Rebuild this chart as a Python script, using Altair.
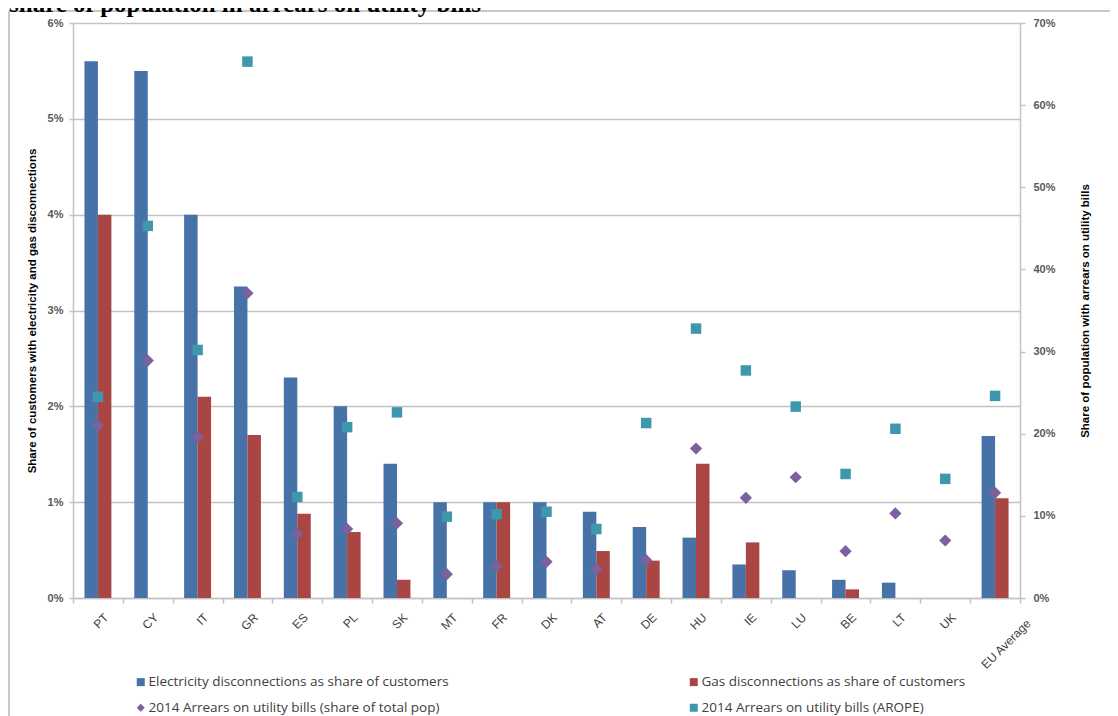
import altair as alt
import pandas as pd

countries = ["PT", "CY", "IT", "GR", "ES", "PL", "SK", "MT", "FR", "DK", "AT",
             "DE", "HU", "IE", "LU", "BE", "LT", "UK", "EU Average"]
# % of customers
electricity = [5.60, 5.50, 4.00, 3.25, 2.30, 2.00, 1.40, 1.00, 1.00, 1.00, 0.90,
               0.74, 0.63, 0.35, 0.29, 0.19, 0.16, None, 1.69]
gas = [4.00, None, 2.10, 1.70, 0.88, 0.69, 0.19, None, 1.00, None, 0.49,
       0.39, 1.40, 0.58, None, 0.09, None, None, 1.04]
# % of population
arrears_total = [21.0, 28.9, 19.6, 37.1, 7.8, 8.4, 9.1, 2.9, 3.9, 4.4, 3.5,
                 4.6, 18.2, 12.2, 14.7, 5.7, 10.3, 7.0, 12.8]
arrears_arope = [24.5, 45.3, 30.2, 65.3, 12.3, 20.8, 22.6, 9.9, 10.2, 10.5, 8.4,
                 21.3, 32.8, 27.7, 23.3, 15.1, 20.6, 14.5, 24.6]

series_names = ["Electricity disconnections as share of customers",
                "Gas disconnections as share of customers",
                "2014 Arrears on utility bills (share of total pop)",
                "2014 Arrears on utility bills (AROPE)"]
series_colors = ["#4672A8", "#A94542", "#7D609E", "#3D98AE"]
series_shapes = ["square", "square", "diamond", "square"]

title_text = "share of population in arrears on utility bills"
left_title = "Share of customers with electricity and gas disconnections"
right_title = "Share of population with arrears on utility bills"

bar_rows = []
for c, e, g in zip(countries, electricity, gas):
    if e is not None:
        bar_rows.append({"country": c, "series": series_names[0], "value": e / 100})
    if g is not None:
        bar_rows.append({"country": c, "series": series_names[1], "value": g / 100})
bars_df = pd.DataFrame(bar_rows)

pt_rows = []
for c, t, a in zip(countries, arrears_total, arrears_arope):
    pt_rows.append({"country": c, "series": series_names[2], "value": t / 100})
    pt_rows.append({"country": c, "series": series_names[3], "value": a / 100})
pts_df = pd.DataFrame(pt_rows)

W, H = 947, 575
GRAY = "#c3c3c3"
FONT = "Liberation Sans"

legend = alt.Legend(orient="none", legendX=61, legendY=652, columns=2,
                    direction="horizontal",
                    columnPadding=238, rowPadding=11, title=None,
                    labelFont="Open Sans", labelFontSize=13.5, labelColor="#404040",
                    symbolSize=64, symbolStrokeWidth=0, labelOffset=1,
                    labelLimit=0)

is_eu = "datum.value === 'EU Average'"
x_scale = alt.Scale(domain=countries, paddingInner=0, paddingOuter=0)
x_axis = alt.Axis(title=None, labelAngle=315, labelAlign="right",
                  labelBaseline="middle", labelFont=FONT, labelFontSize=12,
                  labelColor="#404040", tickBand="extent", tickSize=5,
                  tickColor=GRAY, tickWidth=1.5, domainColor=GRAY,
                  domainWidth=1.5, grid=False,
                  labelPadding={"condition": {"test": is_eu, "value": 18}, "value": 12},
                  labelOffset={"condition": {"test": is_eu, "value": 33}, "value": 8})
color = alt.Color("series:N", scale=alt.Scale(domain=series_names, range=series_colors),
                  legend=legend)
shape = alt.Shape("series:N", scale=alt.Scale(domain=series_names, range=series_shapes),
                  legend=legend)

bars = alt.Chart(bars_df).mark_bar().encode(
    x=alt.X("country:N", sort=countries, scale=x_scale, axis=x_axis),
    xOffset=alt.XOffset("series:N", scale=alt.Scale(domain=series_names[:2],
                                                   paddingInner=0, paddingOuter=0.85)),
    y=alt.Y("value:Q", scale=alt.Scale(domain=[0, 0.06], nice=False),
            axis=alt.Axis(title=left_title, values=[0, 0.01, 0.02, 0.03, 0.04, 0.05, 0.06],
                          format=".0%", orient="left", grid=True, gridColor=GRAY,
                          gridWidth=1.5, domainColor=GRAY, domainWidth=1.5,
                          tickColor=GRAY, tickSize=4, tickWidth=1.5,
                          labelFont=FONT, labelFontSize=11, labelColor="#595959",
                          labelFontWeight="bold", labelPadding=6,
                          titleFont=FONT, titleFontSize=11.5, titleFontWeight="bold",
                          titleColor="#000000", titleAngle=270, titleX=-41,
                          titleY=H / 2, titleAlign="center", titleBaseline="middle")),
    color=color,
)

right_axis = alt.Axis(title=right_title,
                      values=[0, 0.1, 0.2, 0.3, 0.4, 0.5, 0.6, 0.7],
                      format=".0%", orient="right", grid=False,
                      domainColor=GRAY, domainWidth=1.5,
                      tickColor=GRAY, tickSize=5, tickWidth=1.5,
                      labelFont=FONT, labelFontSize=11, labelColor="#595959",
                      labelFontWeight="bold", labelPadding=8,
                      titleFont=FONT, titleFontSize=11.5, titleFontWeight="bold",
                      titleColor="#000000", titleAngle=270, titleX=65,
                      titleY=H / 2, titleAlign="center", titleBaseline="middle")
y_right = alt.Y("value:Q", scale=alt.Scale(domain=[0, 0.7], nice=False), axis=right_axis)

pts_base = alt.Chart(pts_df).encode(
    x=alt.X("country:N", sort=countries, scale=x_scale, axis=x_axis),
    y=y_right,
    color=color,
    shape=shape,
)
diamonds = pts_base.transform_filter(
    alt.datum.series == series_names[2]
).mark_point(filled=True, opacity=1, size=150)
squares = pts_base.transform_filter(
    alt.datum.series == series_names[3]
).mark_point(filled=True, opacity=1, size=110)
points = alt.layer(diamonds, squares)

dummy = pd.DataFrame({"k": [0]})
frame_top = alt.Chart(dummy).mark_rule(color="#c8c8c8", strokeWidth=2).encode(
    x=alt.value(-64), x2=alt.value(1050), y=alt.value(-12))
frame_left = alt.Chart(dummy).mark_rule(color="#c8c8c8", strokeWidth=2).encode(
    x=alt.value(-64), y=alt.value(-12), y2=alt.value(710))
title = alt.Chart(dummy).mark_text(text=title_text, font="Liberation Serif",
                                   fontSize=25, fontWeight="bold", align="left",
                                   baseline="alphabetic", color="#000000").encode(
    x=alt.value(-64), y=alt.value(-11))

chart = alt.layer(bars, points, frame_top, frame_left, title).resolve_scale(
    y="independent"
).properties(
    width=W, height=H,
    autosize=alt.AutoSizeParams(type="none"),
    padding={"left": 65, "top": 15, "right": 90, "bottom": 118},
).configure_view(stroke=None)

chart.save("out.html", embed_options={"renderer": "svg", "actions": False})
